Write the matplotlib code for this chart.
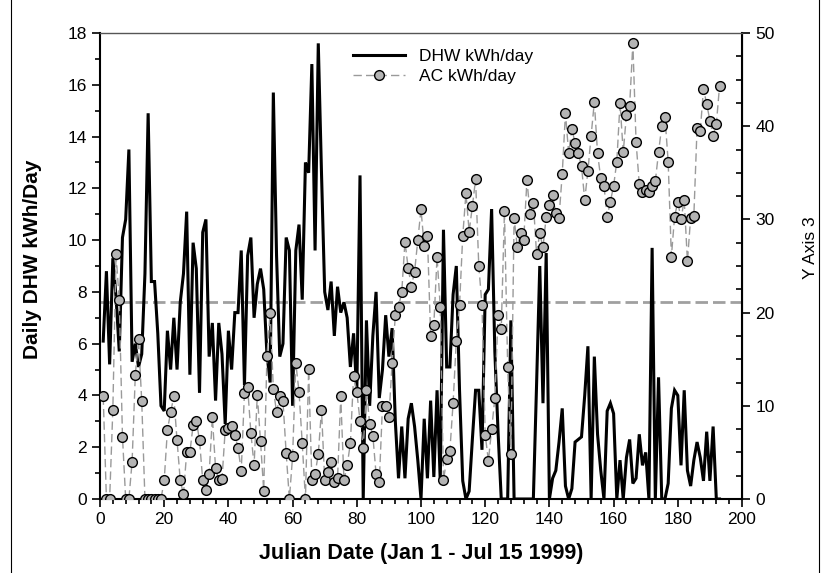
import matplotlib
matplotlib.use("Agg")
import matplotlib.pyplot as plt
from matplotlib.ticker import MultipleLocator
from matplotlib.lines import Line2D

plt.rcParams['font.family'] = ['Liberation Sans', 'DejaVu Sans']

days = list(range(1, 194))

dhw = [
    6.1, 8.8, 5.2, 9.3, 7.8, 5.7, 10.1, 10.8, 13.5, 5.3,
    6.0, 5.1, 5.6, 8.7, 14.9, 8.4, 8.4, 6.4, 3.6, 3.4,
    6.5, 5.0, 7.0, 5.0, 7.6, 8.7, 11.1, 4.8, 9.9, 8.9,
    4.1, 10.3, 10.8, 5.5, 6.8, 3.8, 6.8, 5.6, 2.9, 6.5,
    5.0, 7.2, 7.2, 9.6, 4.4, 9.4, 10.1, 7.0, 8.3, 8.9,
    8.1, 5.6, 4.5, 15.7, 9.4, 5.5, 6.0, 10.1, 9.6, 3.6,
    9.6, 10.6, 7.7, 13.0, 12.6, 16.8, 9.6, 17.6, 12.6, 8.0,
    7.3, 8.4, 6.3, 8.2, 7.2, 7.6, 7.0, 5.1, 6.4, 4.1,
    12.5, 0.0, 6.9, 3.6, 6.3, 8.0, 3.9, 5.0, 7.1, 5.5,
    6.6, 3.0, 0.8, 2.8, 0.8, 3.1, 3.7, 2.8, 1.5, 0.0,
    3.1, 0.8, 3.8, 0.85, 4.2, 0.7, 10.4, 5.1, 5.1, 7.9,
    9.0, 4.2, 0.7, 0.0, 0.3, 2.3, 4.2, 4.2, 1.9, 7.9,
    8.1, 11.2, 5.7, 2.6, 0.0, 0.0, 0.0, 6.9, 0.0, 0.0,
    0.0, 0.0, 0.0, 0.0, 0.0, 4.4, 9.0, 3.7, 9.5, 0.0,
    0.8, 1.1, 2.2, 3.5, 0.5, 0.0, 0.4, 2.2, 2.3, 2.4,
    4.0, 5.9, 0.0, 5.5, 2.5, 1.1, 0.0, 3.4, 3.7, 3.3,
    0.0, 1.5, 0.0, 1.6, 2.3, 0.6, 0.8, 2.5, 1.3, 1.8,
    0.0, 9.7, 0.0, 4.7, 0.0, 0.0, 0.6, 3.5, 4.2, 4.0,
    1.3, 4.2, 1.1, 0.5, 1.5, 2.2, 1.6, 0.7, 2.6, 0.7,
    2.8, 0.0, 0.0,
]

ac = [
    11.0, 0, 0, 9.6, 26.3, 21.3, 6.7, 0, 0, 4.0,
    13.3, 17.2, 10.5, 0, 0, 0, 0, 0, 0, 2.0,
    7.4, 9.3, 11.0, 6.3, 2.0, 0.5, 5.0, 5.0, 7.9, 8.4,
    6.3, 2.0, 1.0, 2.7, 8.8, 3.3, 2.0, 2.1, 7.4, 7.6,
    7.8, 6.9, 5.5, 3.0, 11.4, 12.0, 7.1, 3.6, 11.2, 6.2,
    0.9, 15.3, 20.0, 11.8, 9.3, 11.0, 10.5, 4.9, 0, 4.6,
    14.6, 11.5, 6.0, 0, 13.9, 2.0, 2.7, 4.8, 9.6, 2.0,
    2.9, 4.0, 1.8, 2.2, 11.0, 2.0, 3.6, 6.0, 13.2, 11.5,
    8.4, 5.5, 11.7, 8.1, 6.8, 2.7, 1.8, 10.0, 10.0, 8.8,
    14.6, 19.7, 20.6, 22.2, 27.6, 24.8, 22.8, 24.4, 27.8, 31.1,
    27.1, 28.2, 17.5, 18.7, 26.0, 20.6, 2.0, 4.3, 5.2, 10.3,
    17.0, 20.8, 28.2, 32.8, 28.7, 31.4, 34.3, 25.0, 20.8, 6.9,
    4.1, 7.5, 10.8, 19.7, 18.2, 30.9, 14.2, 4.8, 30.2, 27.0,
    28.5, 27.8, 34.2, 30.6, 31.8, 26.3, 28.5, 27.0, 30.3, 31.5,
    32.6, 30.7, 30.2, 34.9, 41.4, 37.1, 39.7, 38.2, 37.1, 35.7,
    32.1, 35.2, 39.0, 42.6, 37.1, 34.4, 33.6, 30.3, 31.9, 33.6,
    36.2, 42.5, 37.2, 41.2, 42.2, 48.9, 38.3, 33.8, 32.9, 33.2,
    32.9, 33.6, 34.1, 37.2, 40.0, 41.0, 36.2, 26.0, 30.3, 31.9,
    30.0, 32.1, 25.5, 30.2, 30.4, 39.8, 39.5, 44.0, 42.4, 40.6,
    39.0, 40.2, 44.3,
]

ref_level = 7.6  # left-axis units

labels = ['DHW kWh/day', 'AC kWh/day']
xlabel = 'Julian Date (Jan 1 - Jul 15 1999)'
ylabel_left = 'Daily DHW kWh/Day'
ylabel_right = 'Y Axis 3'

fig = plt.figure(figsize=(8.25, 5.73), dpi=100)
ax = fig.add_axes([100 / 825, 1 - 499 / 573, 642 / 825, 466 / 573])
ax2 = ax.twinx()

l1, = ax.plot(days, dhw, color='black', lw=2.2, zorder=3, solid_joinstyle='miter')
ax.axhline(ref_level, color='#a0a0a0', lw=2.0, dashes=(4.5, 1.8), zorder=2)
l2, = ax2.plot(days, ac, color='#9a9a9a', lw=1.0, dashes=(6, 3),
               marker='o', ms=7, mfc='#b4b4b4', mec='black', mew=1.0, zorder=4)

ax.set_xlim(0, 200)
ax.set_ylim(0, 18)
ax2.set_ylim(0, 50)

ax.xaxis.set_major_locator(MultipleLocator(20))
ax.xaxis.set_minor_locator(MultipleLocator(4))
ax.yaxis.set_major_locator(MultipleLocator(2))
ax.yaxis.set_minor_locator(MultipleLocator(1))
ax2.yaxis.set_major_locator(MultipleLocator(10))
ax2.yaxis.set_minor_locator(MultipleLocator(2.5))

ax.tick_params(axis='both', which='major', direction='out', length=6, width=1.2,
               labelsize=12.5, top=False, right=False)
ax.tick_params(axis='both', which='minor', direction='out', length=3.5, width=1.2,
               top=False, right=False)
ax2.tick_params(axis='y', which='major', direction='out', length=6, width=1.2, labelsize=12.5)
ax2.tick_params(axis='y', which='minor', direction='in', length=4, width=1.2)

for s in ['left', 'bottom']:
    ax.spines[s].set_linewidth(1.5)
ax2.spines['right'].set_linewidth(1.5)
ax2.spines['top'].set_linewidth(1.0)
ax2.spines['top'].set_color('#555555')
ax.spines['top'].set_visible(False)
ax2.spines['left'].set_visible(False)
ax2.spines['bottom'].set_visible(False)

ax.set_xlabel(xlabel, fontsize=15.5, fontweight='bold')
ax.set_ylabel(ylabel_left, fontsize=15, fontweight='bold')
ax2.set_ylabel(ylabel_right, fontsize=12.5)
ax.xaxis.set_label_coords(0.5, -0.094)
ax.yaxis.set_label_coords(-0.09, 0.515)
ax2.yaxis.set_label_coords(1.095, 0.54)

ax2.legend([l1, l2], labels, loc='upper left', bbox_to_anchor=(0.394, 0.965),
           frameon=False, fontsize=12.5, handlelength=3.0, handletextpad=0.8,
           borderpad=0, borderaxespad=0, labelspacing=0.25)

for xf in (11 / 825, 819 / 825):
    fig.add_artist(Line2D([xf, xf], [0, 1], transform=fig.transFigure, color='black', lw=0.8))

fig.savefig('out.png', dpi=100)
